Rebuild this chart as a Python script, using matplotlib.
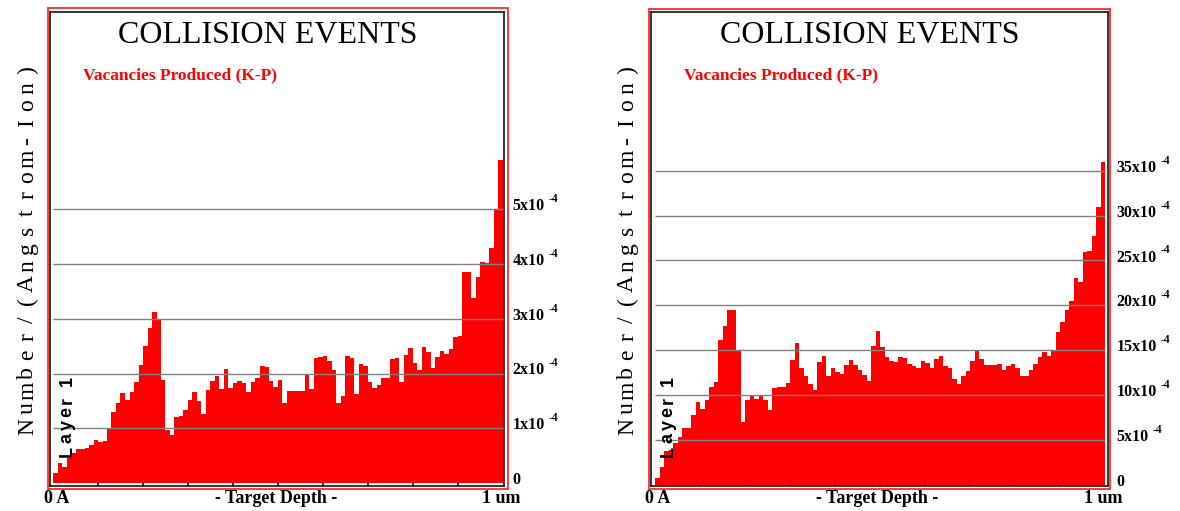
import matplotlib
matplotlib.use("Agg")
import matplotlib.pyplot as plt
from matplotlib.patches import Rectangle
import numpy as np

# ---------------- data (units of 1e-4 vacancies / (Angstrom-Ion)) ----------------
left_vac = [0.18, 0.36, 0.30, 0.45, 0.55, 0.62, 0.62, 0.64, 0.69, 0.79,
            0.75, 0.77, 1.00, 1.30, 1.46, 1.65, 1.52, 1.67, 1.85, 2.16,
            2.51, 2.84, 3.12, 3.00, 1.88, 0.97, 0.88, 1.20, 1.22, 1.33,
            1.52, 1.67, 1.50, 1.26, 1.70, 1.87, 1.95, 1.71, 2.09, 1.73,
            1.82, 1.87, 1.83, 1.66, 1.84, 1.91, 2.14, 2.12, 1.86, 1.76,
            1.88, 1.47, 1.68, 1.68, 1.68, 1.68, 1.97, 1.71, 2.28, 2.30,
            2.32, 2.22, 2.07, 1.47, 1.58, 2.32, 2.29, 1.63, 2.17, 2.14,
            1.85, 1.74, 1.79, 1.91, 1.92, 2.26, 2.29, 1.85, 2.34, 2.47,
            2.19, 2.06, 2.49, 2.40, 2.10, 2.30, 2.42, 2.36, 2.45, 2.66,
            2.69, 3.85, 3.85, 3.37, 3.77, 4.04, 4.01, 4.29, 5.00, 5.90]

right_vac = [0.8, 2.0, 3.8, 3.9, 4.7, 5.4, 6.3, 6.3, 7.8, 9.2,
             8.5, 9.5, 10.9, 11.5, 16.2, 17.7, 19.5, 19.5, 15.0, 7.0,
             9.5, 9.9, 9.6, 10.0, 9.5, 8.35, 10.8, 10.9, 10.9, 11.4,
             13.9, 15.8, 13.0, 12.1, 11.3, 10.6, 13.7, 14.4, 12.1, 13.0,
             12.6, 12.4, 13.4, 13.9, 13.4, 12.85, 12.3, 11.6, 15.5, 17.1,
             15.4, 14.2, 13.8, 13.7, 14.2, 14.1, 13.5, 13.2, 13.0, 13.8,
             13.6, 13.0, 14.0, 14.4, 13.3, 13.0, 11.8, 11.2, 12.1, 12.7,
             13.8, 15.0, 14.0, 13.4, 13.4, 13.4, 13.5, 12.8, 13.2, 13.5,
             13.0, 12.1, 12.1, 12.8, 13.5, 14.2, 14.8, 14.4, 15.0, 17.0,
             18.1, 19.5, 20.5, 23.0, 22.6, 26.0, 26.1, 27.7, 31.0, 36.0]

left_ticks = [0, 1, 2, 3, 4, 5]
right_ticks = [0, 5, 10, 15, 20, 25, 30, 35]
depth_ticks = [10, 20, 30, 40, 50, 60, 70, 80, 90]

title_text = "COLLISION EVENTS"
subtitle_text = "Vacancies Produced (K-P)"
ylabel_text = "Number/(Angstrom-Ion)"
layer_text = "Layer 1"
x_left_text = "0 A"
x_mid_text = "- Target Depth -"
x_right_text = "1 um"
exp_text = "-4"

# ---------------- layout (pixels) ----------------
W, H = 1180, 511
fig = plt.figure(figsize=(W / 100, H / 100), dpi=100)
fig.patch.set_facecolor("white")

def fx(px):
    return px / W

def fy(py):
    return 1 - py / H

SERIF = "Liberation Serif"

# approximate Arial-Bold advance widths (em) for the letter-spaced layer label
ARIAL_BOLD_ADV = {"L": .611, "a": .556, "y": .556, "e": .556, "r": .389,
                  " ": .278, "1": .556}


def vertical_mono(xb, ybottom, ytop, text, **kw):
    """Monospaced vertical text (reading bottom-to-top), baseline at xb."""
    n = len(text)
    adv = (ybottom - ytop) / n
    for i, ch in enumerate(text):
        yc = ybottom - (i + 0.5) * adv
        fig.text(fx(xb), fy(yc), ch, rotation=90, rotation_mode="anchor",
                 ha="center", va="baseline", **kw)


def vertical_tracked(xb, ybottom, text, size_pt, track_px, adv_table, **kw):
    em = size_pt * 100 / 72
    y = ybottom
    for ch in text:
        w = adv_table.get(ch, .556) * em
        if ch != " ":
            fig.text(fx(xb), fy(y - w / 2), ch, rotation=90,
                     rotation_mode="anchor", ha="center", va="baseline",
                     fontsize=size_pt, **kw)
        y -= w + track_px


panels = [
    dict(values=left_vac, ticks=left_ticks, frame=(50, 12.3, 504, 485.5),
         x0=53, y0=483, ppu=54.75, red=(47.7, 8.3, 507.7, 489.3),
         title_cx=268, sub_x=83.3, ylab_xb=33, layer_xb=71.5,
         zero_cx=57, mid_cx=276.5, end_cx=501.7),
    dict(values=right_vac, ticks=right_ticks, frame=(651.3, 12.3, 1107.7, 486),
         x0=655, y0=485, ppu=8.98, red=(649.3, 9, 1110, 489.3),
         title_cx=870, sub_x=684.3, ylab_xb=633, layer_xb=672.5,
         zero_cx=658, mid_cx=877, end_cx=1103),
]

for p in panels:
    fl, ft, fr, fb = p["frame"]
    ax = fig.add_axes([fx(fl), fy(fb), (fr - fl) / W, (fb - ft) / H])
    ax.set_facecolor("white")
    binw = 4.5
    ax.set_xlim(-(p["x0"] - fl) / binw, 100 + (fr - (p["x0"] + 450)) / binw)
    ax.set_ylim(-(fb - p["y0"]) / p["ppu"], (p["y0"] - ft) / p["ppu"])

    vals = np.asarray(p["values"])
    ax.stairs(vals, np.arange(len(vals) + 1), fill=True, baseline=0,
              color="#ff0000", linewidth=0, zorder=2)

    grid_vals = [t for t in p["ticks"] if t > 0]
    ax.hlines(grid_vals, 0, 100, colors="#808080", linewidth=1.0, zorder=3)

    for s in ax.spines.values():
        s.set_color("black")
        s.set_linewidth(1.1)
    ax.set_yticks([])
    ax.set_xticks(depth_ticks)
    ax.tick_params(axis="x", direction="in", length=5, width=1.1,
                   color="black", labelbottom=False)

    # right-hand tick labels with superscript exponent
    for t in p["ticks"]:
        lab = "0" if t == 0 else f"{t}x10"
        txt = ax.annotate(lab, xy=(1, t), xycoords=ax.get_yaxis_transform(),
                          xytext=(8.5, -1), textcoords="offset pixels",
                          ha="left", va="baseline", fontsize=11.5,
                          fontweight="bold", family=SERIF, color="black",
                          annotation_clip=False)
        if t != 0:
            ax.annotate(exp_text, xy=(1, t),
                        xycoords=(txt, ax.get_yaxis_transform()),
                        xytext=(4, 7), textcoords="offset pixels",
                        ha="left", va="baseline", fontsize=8.5,
                        fontweight="bold", family=SERIF, color="black",
                        annotation_clip=False)

    # red outer frame
    rl, rt, rr, rb = p["red"]
    fig.add_artist(Rectangle((fx(rl), fy(rb)), (rr - rl) / W, (rb - rt) / H,
                             transform=fig.transFigure, fill=False,
                             edgecolor="#ff2a2a", linewidth=1.3))

    # texts
    fig.text(fx(p["title_cx"]), fy(42.7), title_text, ha="center",
             va="baseline", fontsize=23, family=SERIF, color="black")
    fig.text(fx(p["sub_x"]), fy(79), subtitle_text, ha="left",
             va="baseline", fontsize=12.5, fontweight="bold", family=SERIF,
             color="#ff0000")
    vertical_mono(p["ylab_xb"], 435, 61, ylabel_text, fontsize=17,
                  family=SERIF, color="black")
    vertical_tracked(p["layer_xb"], 457, layer_text, 13, 3.0, ARIAL_BOLD_ADV,
                     fontweight="bold", family="Liberation Sans",
                     color="black", zorder=5)
    for cx, s in ((p["zero_cx"], x_left_text), (p["mid_cx"], x_mid_text),
                  (p["end_cx"], x_right_text)):
        fig.text(fx(cx), fy(503.3), s, ha="center", va="baseline",
                 fontsize=13, fontweight="bold", family=SERIF, color="black")

fig.savefig("out.png", dpi=100, facecolor="white")
